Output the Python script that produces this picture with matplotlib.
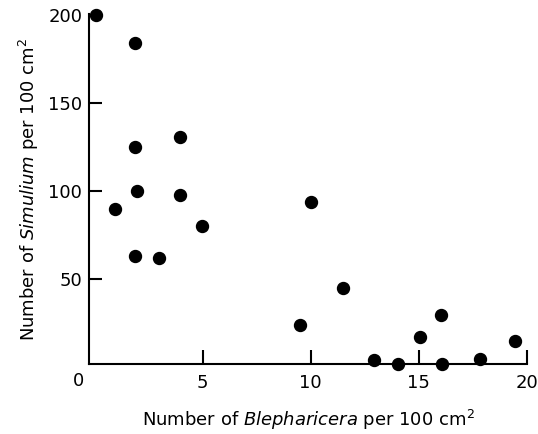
from matplotlib import pyplot as plt

# density of Blepharicera vs Simulium (per 100 cm2)
blepharicera = [0.05, 1.85, 1.88, 1.97, 0.94, 3.96, 3.96, 1.87, 2.99, 4.98,
                10.0, 9.5, 11.5, 12.94, 14.04, 15.05, 16.03, 16.1, 17.86, 19.48]
simulium = [200, 184, 125, 100, 90, 131, 97.6, 63, 62.3, 80,
            93.7, 24.2, 45.2, 4.3, 2.1, 17.2, 29.7, 1.9, 4.9, 15.1]

xticks = [5, 10, 15, 20]
yticks = [50, 100, 150, 200]

plt.rcParams['font.family'] = 'DejaVu Sans'

fig = plt.figure(figsize=(5.38, 4.34), dpi=100)
ax = fig.add_axes([0.166, 0.1613, 0.979 - 0.166, 0.9677 - 0.1613])

ax.plot(blepharicera, simulium, 'o', color='black', markersize=8.6, clip_on=False)

ax.set_xlim(-0.25, 20)
ax.set_ylim(2, 200.5)
ax.spines['top'].set_visible(False)
ax.spines['right'].set_visible(False)
ax.spines['left'].set_linewidth(1.5)
ax.spines['bottom'].set_linewidth(1.5)

ax.set_xticks(xticks)
ax.set_yticks(yticks)
ax.tick_params(direction='in', length=10, width=1.5, labelsize=13, pad=7)
ax.tick_params(axis='y', length=9, pad=5)

fig.text(79 / 538, 1 - 381 / 434, '0', ha='center', va='center', fontsize=13)

ax.set_xlabel('Number of $\\it{Blepharicera}$ per 100 cm$^2$', fontsize=13, labelpad=12)
ax.set_ylabel('Number of $\\it{Simulium}$ per 100 cm$^2$', fontsize=13, labelpad=5)

fig.savefig('out.png', dpi=100)
